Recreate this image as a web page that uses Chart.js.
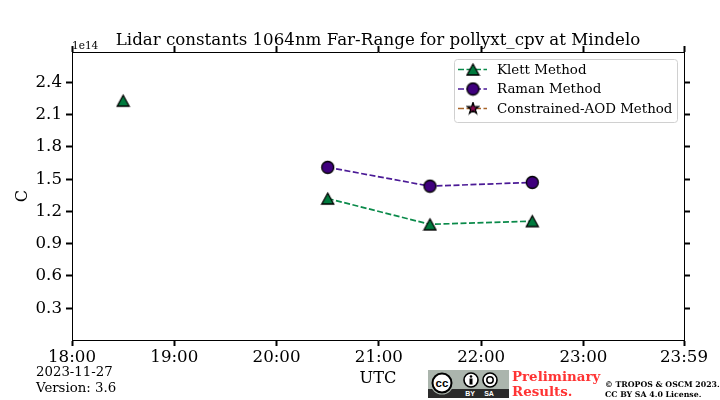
<!doctype html>
<html>
    <head>
        <meta charset="utf-8">
        <title>Lidar constants</title>
        <script src="https://cdn.jsdelivr.net/npm/chart.js@4/dist/chart.umd.min.js"></script>
        <style>
            body{ margin:0; background:#fff; font-family:"DejaVu Serif"; }
            #wrap{ position:relative; width:720px; height:400px; overflow:hidden; }
            .note{ position:absolute; white-space:nowrap; color:#000; }
        </style>
    </head>
    <body>
        <div id="wrap">
            <canvas id="lcChart" width="720" height="400"></canvas>
            <div class="note" style="left:72px;top:39px;font-size:10.5px;line-height:13px;">1e14</div>
            <div class="note" style="left:36px;top:363px;font-size:13.3px;line-height:17px;">2023-11-27</div>
            <div class="note" style="left:36px;top:379px;font-size:13.3px;line-height:17px;">Version: 3.6</div>
            <div class="note" style="left:512px;top:369px;font-size:13.4px;line-height:15px;font-weight:bold;color:#ff3333;">Preliminary<br>Results.</div>
            <div class="note" style="left:605px;top:380px;font-size:7.8px;line-height:10px;font-weight:bold;">© TROPOS &amp; OSCM 2023.<br>CC BY SA 4.0 License.</div>
            <!-- licence badge -->
            <svg style="position:absolute;left:428px;top:370px" width="81" height="28" viewBox="0 0 81 28">
                <rect width="81" height="28" fill="#abb5ad"/>
                <rect y="19" width="81" height="9" fill="#2b2b2b"/>
                <circle cx="14" cy="13" r="11.5" fill="#abb5ad"/>
                <circle cx="14" cy="13" r="9.5" fill="#fff" stroke="#000" stroke-width="2"/>
                <text x="14" y="16.5" text-anchor="middle" font-family="Liberation Sans" font-weight="bold" font-size="11.5">cc</text>
                <circle cx="43" cy="10" r="7" fill="#fff" stroke="#000" stroke-width="1.6"/>
                <circle cx="43" cy="6.5" r="1.3" fill="#000"/>
                <rect x="41.5" y="8.5" width="3" height="6" fill="#000"/>
                <circle cx="62" cy="10" r="7" fill="#fff" stroke="#000" stroke-width="1.6"/>
                <circle cx="62" cy="10" r="3.2" fill="none" stroke="#000" stroke-width="1.5"/>
                <text x="42" y="26" text-anchor="middle" font-family="Liberation Sans" font-weight="bold" font-size="7" fill="#fff">BY</text>
                <text x="61" y="26" text-anchor="middle" font-family="Liberation Sans" font-weight="bold" font-size="7" fill="#fff">SA</text>
            </svg>
        </div>

        <script type="text/javascript">
        // values, C in units of 1e14
        var timeList = ['18:30', '19:30', '20:30', '21:30', '22:30'];
        var klettList = [2.23, null, 1.32, 1.08, 1.11];
        var ramanList = [null, null, 1.61, 1.435, 1.47];
        var aodList = [null, null, null, null, null];

        var xTickList = ['18:00', '19:00', '20:00', '21:00', '22:00', '23:00', '23:59'];
        var yTickList = [0.3, 0.6, 0.9, 1.2, 1.5, 1.8, 2.1, 2.4];
        var yMin = 0.005;
        var yMax = 2.682;

        var serif = 'DejaVu Serif';

        function toMinutes(t){
            var p = t.split(':');
            return (Number(p[0]) - 18) * 60 + Number(p[1]);
        }

        function toLabel(m){
            var h = 18 + Math.floor(m / 60);
            var min = m % 60;
            return h + ':' + (min < 10 ? '0' + min : min);
        }

        function toPoints(values){
            return timeList.map(function(t, i){
                return {x: toMinutes(t), y: values[i]};
            });
        }

        // markers like matplotlib: centred on their bounding box
        function makeMarker(shape, fill, size){
            var c = document.createElement('canvas');
            c.width = size;
            c.height = size;
            var g = c.getContext('2d');
            var m = size / 2;
            var r = m - 1.5;
            g.beginPath();
            if(shape == 'triangle'){
                g.moveTo(m, m - r + 0.5);
                g.lineTo(m + r, m + r - 0.5);
                g.lineTo(m - r, m + r - 0.5);
                g.closePath();
            }
            else if(shape == 'circle'){
                g.arc(m, m, r, 0, Math.PI * 2);
            }
            else{
                for(var i = 0; i < 10; i++){
                    var a = -Math.PI / 2 + i * Math.PI / 5;
                    var d = i % 2 ? r * 0.42 : r + 0.5;
                    g.lineTo(m + Math.cos(a) * d, m + Math.sin(a) * d);
                }
                g.closePath();
            }
            g.fillStyle = fill;
            g.fill();
            g.lineWidth = 1.3;
            g.strokeStyle = '#000';
            g.stroke();
            return c;
        }

        var klettMarker = makeMarker('triangle', '#007a3d', 15);
        var ramanMarker = makeMarker('circle', '#3f007d', 15);
        var aodMarker = makeMarker('star', '#8b0a50', 14);

        // legend box inside the axes
        var boxLegend = {
            id: 'boxLegend',
            afterDatasetsDraw: function(chart){
                var g = chart.ctx;
                var rows = [69.5, 89, 108.5];
                g.save();
                g.beginPath();
                g.roundRect(454.5, 59.5, 223, 63, 3);
                g.fillStyle = 'rgba(255,255,255,0.8)';
                g.fill();
                g.strokeStyle = '#d0d0d0';
                g.lineWidth = 1;
                g.stroke();
                chart.data.datasets.forEach(function(ds, i){
                    g.beginPath();
                    g.setLineDash([6, 2.5]);
                    g.lineWidth = 1.7;
                    g.strokeStyle = ds.borderColor;
                    g.moveTo(458, rows[i]);
                    g.lineTo(487, rows[i]);
                    g.stroke();
                    g.setLineDash([]);
                    var mk = ds.pointStyle;
                    g.drawImage(mk, 473 - mk.width / 2, rows[i] - mk.height / 2);
                    g.fillStyle = '#000';
                    g.font = '13.4px "' + serif + '"';
                    g.textBaseline = 'middle';
                    g.fillText(ds.label, 497, rows[i] + 1);
                });
                g.restore();
            }
        };

        function xTicks(scale){
            scale.ticks = xTickList.map(function(t){ return {value: toMinutes(t)}; });
        }

        function yTicks(scale){
            scale.ticks = yTickList.map(function(v){ return {value: v}; });
        }

        var tickGrid = {drawOnChartArea: false, tickLength: 6, tickWidth: 2, tickColor: '#000'};
        var axisBorder = {color: '#000', width: 1};
        var tickFont = {family: serif, size: 16.67};

        var lcChart = new Chart(document.getElementById('lcChart'), {
            type: 'line',
            data: {
                datasets: [
                    {label: 'Klett Method', data: toPoints(klettList), borderColor: '#0a8a4a', pointStyle: klettMarker},
                    {label: 'Raman Method', data: toPoints(ramanList), borderColor: '#4b1a96', pointStyle: ramanMarker},
                    {label: 'Constrained-AOD Method', data: toPoints(aodList), borderColor: '#a86428', pointStyle: aodMarker}
                ]
            },
            options: {
                responsive: false,
                animation: false,
                spanGaps: false,
                devicePixelRatio: 1,
                datasets: {line: {borderWidth: 1.7, borderDash: [6, 2.5], tension: 0, fill: false}},
                layout: {padding: 0},
                plugins: {
                    legend: {display: false},
                    tooltip: {enabled: false},
                    title: {
                        display: true,
                        fullSize: false,
                        text: 'Lidar constants 1064nm Far-Range for pollyxt_cpv at Mindelo',
                        color: '#000',
                        font: {family: serif, size: 16.67, weight: 'normal'},
                        padding: {top: 31, bottom: 0}
                    }
                },
                scales: {
                    x: {
                        type: 'linear', position: 'bottom', min: 0, max: 359,
                        grid: tickGrid, border: axisBorder,
                        title: {display: true, text: 'UTC', color: '#000', font: {family: serif, size: 16.2}, padding: {top: 0, bottom: 11}},
                        ticks: {color: '#000', font: tickFont, autoSkip: false, maxRotation: 0, padding: 2,
                            callback: function(v){ return toLabel(v); }},
                        afterBuildTicks: xTicks,
                        afterFit: function(s){ s.height = 60; }
                    },
                    x2: {
                        type: 'linear', position: 'top', min: 0, max: 359,
                        grid: tickGrid, border: axisBorder,
                        ticks: {display: false},
                        afterBuildTicks: xTicks,
                        afterFit: function(s){ s.height = 1; }
                    },
                    y: {
                        type: 'linear', position: 'left', min: yMin, max: yMax,
                        grid: tickGrid, border: axisBorder,
                        title: {display: true, text: 'C', color: '#000', font: {family: serif, size: 16.2}, padding: {top: 13, bottom: 0}},
                        ticks: {color: '#000', font: tickFont, autoSkip: false, padding: 4,
                            callback: function(v){ return v.toFixed(1); }},
                        afterBuildTicks: yTicks,
                        afterFit: function(s){ s.width = 72; }
                    },
                    y2: {
                        type: 'linear', position: 'right', min: yMin, max: yMax,
                        grid: tickGrid, border: axisBorder,
                        ticks: {display: false},
                        afterBuildTicks: yTicks,
                        afterFit: function(s){ s.width = 36; }
                    }
                }
            },
            plugins: [boxLegend]
        });
        </script>
    </body>
</html>
